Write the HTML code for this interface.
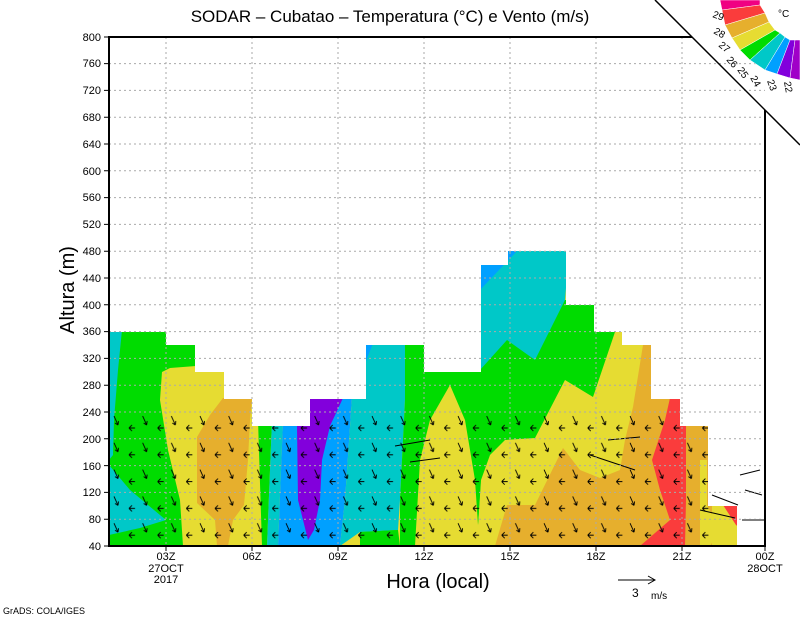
<!DOCTYPE html>
<html><head><meta charset="utf-8"><style>
html,body{margin:0;padding:0;background:#fff;}
svg{display:block;font-family:"Liberation Sans",sans-serif;}
</style></head><body>
<svg width="800" height="618" viewBox="0 0 800 618" xmlns="http://www.w3.org/2000/svg">
<defs>
<clipPath id="prof"><polygon points="109,546 109,332 166,332 166,345 195,345 195,372 224,372 224,399 252,399 252,426 310,426 310,399 366,399 366,345 424,345 424,372 481,372 481,265 508,265 508,251 566,251 566,305 594,305 594,332 622,332 622,345 651,345 651,399 680,399 680,426 708,426 708,506 737,506 737,546"/></clipPath>
<pattern id="arr" x="109" y="546" width="28.67" height="26.8" patternUnits="userSpaceOnUse">
<g stroke="#000" stroke-width="0.9" fill="none">
<path d="M5 4 L9 13 M9 13 L9.5 9 M9 13 L6 11"/>
<path d="M20 16 L26 16 M20 16 L23 13 M20 16 L23 19"/>
</g>
</pattern>
</defs>
<rect width="800" height="618" fill="#fff"/>
<g clip-path="url(#prof)">
<rect x="109" y="240" width="640" height="310" fill="#e6dc32"/>
<polygon points="109,330 196,330 196,366 170,368 162,372 160,400 168,450 180,500 183,546 109,546" fill="#00dc00"/>
<polygon points="109,330 122,330 118,370 114,420 113,455 109,460" fill="#00c8c8"/>
<polygon points="109,465 130,490 166,520 140,528 109,535" fill="#00c8c8"/>
<polygon points="223,398 252,398 250,420 248,460 244,505 233,520 228,546 217,546 215,520 197,503 197,437 210,415" fill="#e6af2d"/>
<polygon points="258,420 272,420 267,546 262,546" fill="#00dc00"/>
<polygon points="272,420 283,420 278,546 267,546" fill="#00c8c8"/>
<polygon points="283,420 310,398 366,398 366,345 378,345 352,398 345,500 340,546 278,546" fill="#00a0ff"/>
<polygon points="308,398 343,398 330,426 322,460 320,500 314,530 308,540 298,500 297,426" fill="#8200dc"/>
<polygon points="378,330 405,330 405,400 400,500 398,530 360,532 340,546 345,500 352,398" fill="#00c8c8"/>
<polygon points="405,330 430,330 430,372 482,372 482,460 478,525 475,480 465,420 450,385 430,420 420,460 415,546 398,546 398,530 360,532 360,546 400,546 400,500 405,400" fill="#00dc00"/>
<polygon points="360,532 398,530 400,546 360,546" fill="#00dc00"/>
<polygon points="478,372 478,300 630,300 622,330 615,332 593,397 565,380 535,438 505,440 490,455 481,480 478,525" fill="#00dc00"/>
<polygon points="478,372 480,370 507,340 535,360 565,300 570,240 478,240" fill="#00c8c8"/>
<polygon points="478,250 518,250 480,290" fill="#00a0ff"/>
<polygon points="643,345 655,345 655,546 495,546 507,505 535,505 563,448 580,470 600,478 620,470 625,440 633,407" fill="#e6af2d"/>
<polygon points="655,345 712,345 712,546 655,546" fill="#e6af2d"/>
<polygon points="670,398 680,398 686,425 686,500 685,546 640,546 670,520 660,490 652,460 665,420" fill="#fa3c3c"/>
<polygon points="700,460 707,460 707,505 720,530 710,546 700,546" fill="#e6dc32"/>
<polygon points="723,505 740,505 740,528 736,525" fill="#fa3c3c"/>
</g>
<rect x="109" y="412" width="600" height="134" fill="url(#arr)" clip-path="url(#prof)"/>
<g stroke="#000" stroke-width="1" fill="none">
<path d="M712 495 L738 505 M700 510 L735 518 M740 475 L760 470 M745 490 L762 495 M742 520 L765 520"/>
<path d="M440 458 L410 462 M430 440 L395 446 M590 455 L635 470 M608 440 L640 437"/>
</g>
<g stroke="#aaa" stroke-width="1" stroke-dasharray="2,3">
<path d="M109 519.2H765M109 492.4H765M109 465.6H765M109 438.8H765M109 412H765M109 385.2H765M109 358.4H765M109 331.6H765M109 304.8H765M109 278H765M109 251.2H765M109 224.4H765M109 197.6H765M109 170.8H765M109 144H765M109 117.2H765M109 90.4H765M109 63.6H765"/>
<path d="M166 37V546M252 37V546M338 37V546M424 37V546M510 37V546M596 37V546M682 37V546"/>
</g>
<path d="M692 37 H109 V546 H765 V110" fill="none" stroke="#000" stroke-width="2"/>
<g stroke="#000" stroke-width="1"><path d="M104 546h5M104 519.2h5M104 492.4h5M104 465.6h5M104 438.8h5M104 412h5M104 385.2h5M104 358.4h5M104 331.6h5M104 304.8h5M104 278h5M104 251.2h5M104 224.4h5M104 197.6h5M104 170.8h5M104 144h5M104 117.2h5M104 90.4h5M104 63.6h5M104 37h5"/>
<path d="M166 546v5M252 546v5M338 546v5M424 546v5M510 546v5M596 546v5M682 546v5M765 546v5"/></g>
<line x1="655" y1="0" x2="800" y2="145" stroke="#000" stroke-width="1.5"/>
<g font-size="11" text-anchor="end" fill="#000">
<text x="101" y="550">40</text><text x="101" y="523">80</text><text x="101" y="496">120</text><text x="101" y="470">160</text><text x="101" y="443">200</text><text x="101" y="416">240</text><text x="101" y="389">280</text><text x="101" y="362">320</text><text x="101" y="335">360</text><text x="101" y="309">400</text><text x="101" y="282">440</text><text x="101" y="255">480</text><text x="101" y="228">520</text><text x="101" y="201">560</text><text x="101" y="175">600</text><text x="101" y="148">640</text><text x="101" y="121">680</text><text x="101" y="94">720</text><text x="101" y="67">760</text><text x="101" y="41">800</text>
</g>
<g font-size="11" text-anchor="middle">
<text x="166" y="560">03Z</text><text x="166" y="572">27OCT</text><text x="166" y="583">2017</text>
<text x="252" y="560">06Z</text><text x="338" y="560">09Z</text><text x="424" y="560">12Z</text><text x="510" y="560">15Z</text><text x="596" y="560">18Z</text><text x="682" y="560">21Z</text>
<text x="765" y="560">00Z</text><text x="765" y="572">28OCT</text>
</g>
<text x="390" y="22" font-size="17" text-anchor="middle">SODAR – Cubatao – Temperatura (°C) e Vento (m/s)</text>
<text x="438" y="588" font-size="20" text-anchor="middle">Hora (local)</text>
<text transform="translate(74,290) rotate(-90)" font-size="20" text-anchor="middle">Altura (m)</text>
<line x1="618" y1="580" x2="655" y2="580" stroke="#000"/><path d="M648 576 L655 580 L648 584" fill="none" stroke="#000"/>
<text x="632" y="597" font-size="12">3</text><text x="651" y="599" font-size="10">m/s</text>
<text x="3" y="614" font-size="9">GrADS: COLA/IGES</text>
<g stroke="#fff" stroke-width="0.5">
<polygon points="720,0 760,0 760,5 722,10" fill="#f00082"/>
<polygon points="722,10 760,5 765,13 725,25" fill="#fa3c3c"/>
<polygon points="725,25 765,13 769,22 732,38" fill="#e6af2d"/>
<polygon points="732,38 769,22 775,30 740,50" fill="#e6dc32"/>
<polygon points="740,50 775,30 780,33 750,60" fill="#00dc00"/>
<polygon points="750,60 780,33 785,37 765,70" fill="#00c8c8"/>
<polygon points="765,70 785,37 790,40 777,74" fill="#00a0ff"/>
<polygon points="777,74 790,40 795,40 790,78" fill="#8200dc"/>
<polygon points="790,78 795,40 800,40 800,80" fill="#a000c8"/>
</g>
<g font-size="10">
<text x="712" y="17" transform="rotate(20 712 17)">29</text>
<text x="713" y="33" transform="rotate(30 713 33)">28</text>
<text x="718" y="46" transform="rotate(40 718 46)">27</text>
<text x="726" y="60" transform="rotate(50 726 60)">26</text>
<text x="737" y="70" transform="rotate(55 737 70)">25</text>
<text x="750" y="78" transform="rotate(60 750 78)">24</text>
<text x="767" y="81" transform="rotate(70 767 81)">23</text>
<text x="784" y="82" transform="rotate(80 784 82)">22</text>
<text x="778" y="17">°C</text>
</g>
</svg>
</body></html>
